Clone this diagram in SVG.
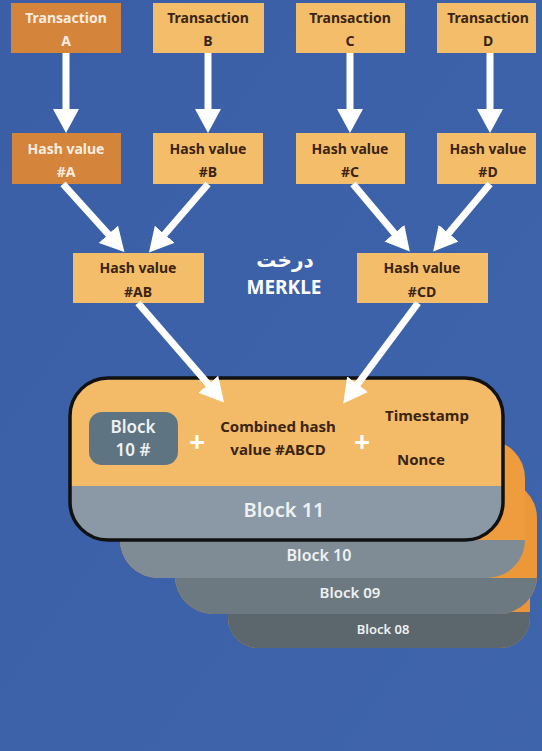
<svg xmlns="http://www.w3.org/2000/svg" width="542" height="751" viewBox="0 0 542 751">
  <defs>
    <style>
      .lbl { font-family: "Noto Sans", "Open Sans", sans-serif; font-weight: 700; font-size: 14px; text-anchor: middle; fill: #3a2412; }
      .lbl.light { fill: #fbeee0; }
      .box-dark { fill: #d5843b; }
      .box-light { fill: #f4bd69; }
      .conn { stroke: #ffffff; stroke-width: 7; fill: none; marker-end: url(#head); }
      .blk { font-family: "Noto Sans", "Open Sans", sans-serif; text-anchor: middle; fill: #eef1f2; font-weight: 600; }
      .inner { font-family: "Noto Sans", "Open Sans", sans-serif; font-weight: 700; font-size: 15px; text-anchor: middle; fill: #3a2412; }
      .plus { font-family: "Noto Sans", sans-serif; font-weight: 700; font-size: 28px; fill: #ffffff; text-anchor: middle; }
    </style>
    <marker id="head" viewBox="0 -13 24 26" refX="1" refY="0" markerWidth="24" markerHeight="26" markerUnits="userSpaceOnUse" orient="auto">
      <path d="M0,-13 L24,0 L0,13 Z" fill="#ffffff"/>
    </marker>
    <clipPath id="c11"><rect x="70" y="378" width="433" height="162" rx="38"/></clipPath>
    <clipPath id="c10"><rect x="120" y="440" width="405" height="138" rx="38"/></clipPath>
    <clipPath id="c09"><rect x="175" y="480" width="362" height="134" rx="38"/></clipPath>
    <clipPath id="c08"><rect x="228" y="530" width="302" height="118" rx="30"/></clipPath>
    <linearGradient id="bg" x1="0" y1="0" x2="1" y2="1">
      <stop offset="0" stop-color="#3a5fa6"/>
      <stop offset="1" stop-color="#3e64ab"/>
    </linearGradient>
  </defs>

  <rect width="542" height="751" fill="url(#bg)"/>

  <!-- block chain stack, back to front -->
  <g id="block08">
    <g clip-path="url(#c08)">
      <rect x="228" y="530" width="302" height="118" fill="#ea9538"/>
      <rect x="228" y="612" width="302" height="36" fill="#5c666d"/>
    </g>
    <text class="blk" x="383" y="634" font-size="13">Block 08</text>
  </g>
  <g id="block09">
    <g clip-path="url(#c09)">
      <rect x="175" y="480" width="362" height="134" fill="#ec9839"/>
      <rect x="175" y="578" width="362" height="36" fill="#6d7981"/>
    </g>
    <text class="blk" x="350" y="598" font-size="15">Block 09</text>
  </g>
  <g id="block10">
    <g clip-path="url(#c10)">
      <rect x="120" y="440" width="405" height="138" fill="#ee9c3e"/>
      <rect x="120" y="540" width="405" height="38" fill="#7f8c96"/>
    </g>
    <text class="blk" x="319" y="561" font-size="16">Block 10</text>
  </g>
  <g id="block11">
    <g clip-path="url(#c11)">
      <rect x="70" y="378" width="433" height="162" fill="#f3bb67"/>
      <rect x="70" y="486" width="433" height="54" fill="#8a99a5"/>
    </g>
    <rect x="70" y="378" width="433" height="162" rx="38" fill="none" stroke="#111111" stroke-width="3.5"/>
    <text class="blk" x="284" y="517" font-size="20">Block 11</text>
  </g>

  <g id="prevhash">
    <rect x="89" y="412" width="89" height="53" rx="13" fill="#5f7483"/>
    <text class="blk" x="133" y="433" font-size="17">Block</text>
    <text class="blk" x="133" y="456" font-size="17">10 #</text>
  </g>
  <text class="plus" x="197" y="452">+</text>
  <g id="roothash">
    <text class="inner" x="278" y="432">Combined hash</text>
    <text class="inner" x="278" y="455">value #ABCD</text>
  </g>
  <text class="plus" x="362" y="452">+</text>
  <g id="timestamp"><text class="inner" x="427" y="421">Timestamp</text></g>
  <g id="nonce"><text class="inner" x="421" y="465">Nonce</text></g>

  <!-- transactions -->
  <g id="txA">
    <rect class="box-dark" x="11" y="3" width="110" height="50"/>
    <text class="lbl light" x="66" y="23">Transaction</text>
    <text class="lbl light" x="66" y="46">A</text>
  </g>
  <g id="txB">
    <rect class="box-light" x="153" y="3" width="111" height="50"/>
    <text class="lbl" x="208" y="23">Transaction</text>
    <text class="lbl" x="208" y="46">B</text>
  </g>
  <g id="txC">
    <rect class="box-light" x="296" y="3" width="109" height="50"/>
    <text class="lbl" x="350" y="23">Transaction</text>
    <text class="lbl" x="350" y="46">C</text>
  </g>
  <g id="txD">
    <rect class="box-light" x="437" y="3" width="99" height="50"/>
    <text class="lbl" x="488" y="23">Transaction</text>
    <text class="lbl" x="488" y="46">D</text>
  </g>

  <!-- leaf hashes -->
  <g id="hashA">
    <rect class="box-dark" x="12" y="133" width="109" height="51"/>
    <text class="lbl light" x="66" y="154">Hash value</text>
    <text class="lbl light" x="66" y="177">#A</text>
  </g>
  <g id="hashB">
    <rect class="box-light" x="153" y="133" width="110" height="51"/>
    <text class="lbl" x="208" y="154">Hash value</text>
    <text class="lbl" x="208" y="177">#B</text>
  </g>
  <g id="hashC">
    <rect class="box-light" x="296" y="133" width="109" height="51"/>
    <text class="lbl" x="350" y="154">Hash value</text>
    <text class="lbl" x="350" y="177">#C</text>
  </g>
  <g id="hashD">
    <rect class="box-light" x="437" y="133" width="99" height="51"/>
    <text class="lbl" x="488" y="154">Hash value</text>
    <text class="lbl" x="488" y="177">#D</text>
  </g>

  <!-- intermediate hashes -->
  <g id="hashAB">
    <rect class="box-light" x="73" y="253" width="131" height="50"/>
    <text class="lbl" x="138" y="273">Hash value</text>
    <text class="lbl" x="138" y="297">#AB</text>
  </g>
  <g id="hashCD">
    <rect class="box-light" x="357" y="253" width="131" height="50"/>
    <text class="lbl" x="422" y="273">Hash value</text>
    <text class="lbl" x="422" y="297">#CD</text>
  </g>

  <g id="title">
    <text x="285" y="267" font-family="'DejaVu Sans', 'Noto Sans', sans-serif" font-weight="700" font-size="20" fill="#ffffff" text-anchor="middle">درخت</text>
    <text x="284" y="294" font-family="'Noto Sans', 'Open Sans', sans-serif" font-weight="700" font-size="19" fill="#ffffff" text-anchor="middle">MERKLE</text>
  </g>

  <g id="connectors">
    <line class="conn" x1="66" y1="53" x2="66" y2="110"/>
    <line class="conn" x1="208" y1="53" x2="208" y2="110"/>
    <line class="conn" x1="350" y1="53" x2="350" y2="110"/>
    <line class="conn" x1="490" y1="53" x2="490" y2="110"/>
    <line class="conn" x1="63" y1="184" x2="109" y2="235" stroke-width="6"/>
    <line class="conn" x1="208" y1="184" x2="164" y2="235" stroke-width="6"/>
    <line class="conn" x1="353" y1="184" x2="395" y2="234" stroke-width="6"/>
    <line class="conn" x1="490" y1="184" x2="448" y2="234" stroke-width="6"/>
    <line class="conn" x1="138" y1="303" x2="209" y2="385" stroke-width="6"/>
    <line class="conn" x1="418" y1="303" x2="357" y2="385" stroke-width="6"/>
  </g>
</svg>
